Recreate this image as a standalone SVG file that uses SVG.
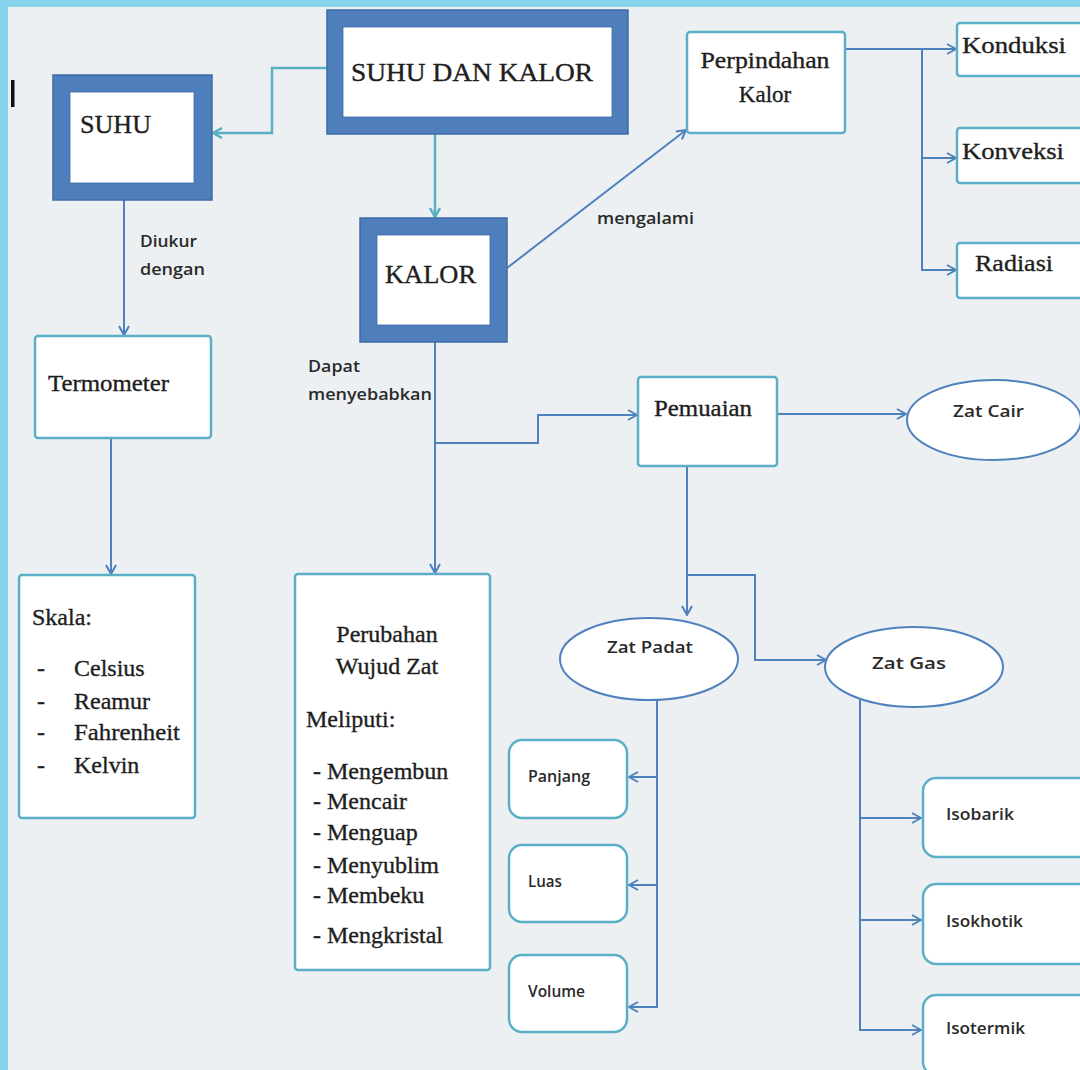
<svg xmlns="http://www.w3.org/2000/svg" width="1080" height="1070" viewBox="0 0 1080 1070">
<defs>
<style>
.bg{fill:#ECF0F3}
.thick{fill:#4F7EBD;stroke:#3F6BA6;stroke-width:1.5}
.inner{fill:#FFFFFF;stroke:#3F6BA6;stroke-width:0.8}
.box{fill:#FFFFFF;stroke:#5AAFC6;stroke-width:2.5}
.oval{fill:#FFFFFF;stroke:#4F81BD;stroke-width:2}
.t{font-family:"Liberation Serif","Times New Roman",serif;fill:#1E1E1E;stroke:#1E1E1E;stroke-width:0.35}
.s{font-family:"Open Sans","Liberation Sans",Arial,sans-serif;font-weight:600;fill:#2A2A2A;font-size:15.5px}
.c1{fill:none;stroke:#5AAFC4;stroke-width:2.5}
.c2{fill:none;stroke:#4F81BD;stroke-width:2}
</style>
<marker id="aT" viewBox="0 0 12 12" refX="11" refY="6" markerWidth="12" markerHeight="12" markerUnits="userSpaceOnUse" orient="auto">
<polyline points="2,1 11,6 2,11" fill="none" stroke="#5AAFC4" stroke-width="2.5"/>
</marker>
<marker id="aB" viewBox="0 0 12 12" refX="11" refY="6" markerWidth="12" markerHeight="12" markerUnits="userSpaceOnUse" orient="auto">
<polyline points="2,1 11,6 2,11" fill="none" stroke="#4F81BD" stroke-width="2"/>
</marker>
</defs>
<rect class="bg" x="0" y="0" width="1080" height="1070"/>
<rect x="0" y="0" width="1080" height="7" fill="#86D3EC"/>
<rect x="0" y="0" width="8" height="1070" fill="#86D3EC"/>
<rect x="11" y="80" width="3.5" height="27" fill="#111"/>

<g id="connectors">
<polyline class="c1" points="327,68 272,68 272,133 213,133" marker-end="url(#aT)"/>
<line class="c1" x1="435" y1="134" x2="435" y2="217" marker-end="url(#aT)"/>
<line class="c2" x1="507" y1="268" x2="686" y2="130" marker-end="url(#aB)"/>
<polyline class="c2" points="845,49 956,49" marker-end="url(#aB)"/>
<polyline class="c2" points="922,49 922,158 956,158" marker-end="url(#aB)"/>
<polyline class="c2" points="922,158 922,270 956,270" marker-end="url(#aB)"/>
<line class="c2" x1="124" y1="200" x2="124" y2="335" marker-end="url(#aB)"/>
<line class="c2" x1="111" y1="438" x2="111" y2="574" marker-end="url(#aB)"/>
<line class="c2" x1="435" y1="342" x2="435" y2="573" marker-end="url(#aB)"/>
<polyline class="c2" points="435,443 538,443 538,415 637,415" marker-end="url(#aB)"/>
<line class="c2" x1="777" y1="414" x2="906" y2="414" marker-end="url(#aB)"/>
<line class="c2" x1="687" y1="466" x2="687" y2="615" marker-end="url(#aB)"/>
<polyline class="c2" points="687,575 755,575 755,660 826,660" marker-end="url(#aB)"/>
<polyline class="c2" points="657,700 657,1007 629,1007" marker-end="url(#aB)"/>
<line class="c2" x1="657" y1="777" x2="629" y2="777" marker-end="url(#aB)"/>
<line class="c2" x1="657" y1="885" x2="629" y2="885" marker-end="url(#aB)"/>
<polyline class="c2" points="860,700 860,1030 921,1030" marker-end="url(#aB)"/>
<line class="c2" x1="860" y1="818" x2="921" y2="818" marker-end="url(#aB)"/>
<line class="c2" x1="860" y1="920" x2="921" y2="920" marker-end="url(#aB)"/>
<text class="s" x="597" y="224" textLength="97" lengthAdjust="spacingAndGlyphs">mengalami</text>
<text class="s" x="140" y="247" textLength="57" lengthAdjust="spacingAndGlyphs">Diukur</text>
<text class="s" x="140" y="275" textLength="65" lengthAdjust="spacingAndGlyphs">dengan</text>
<text class="s" x="308" y="372" textLength="52" lengthAdjust="spacingAndGlyphs">Dapat</text>
<text class="s" x="308" y="400" textLength="124" lengthAdjust="spacingAndGlyphs">menyebabkan</text>
</g>

<g id="suhu-dan-kalor">
<rect class="thick" x="327" y="10" width="301" height="124"/>
<rect class="inner" x="343" y="27" width="269" height="90"/>
<text class="t" x="472" y="81" font-size="25" text-anchor="middle" textLength="242" lengthAdjust="spacingAndGlyphs">SUHU DAN KALOR</text>
</g>
<g id="suhu">
<rect class="thick" x="53" y="75" width="159" height="125"/>
<rect class="inner" x="70" y="92" width="124" height="91"/>
<text class="t" x="80" y="133" font-size="25" textLength="71" lengthAdjust="spacingAndGlyphs">SUHU</text>
</g>
<g id="kalor">
<rect class="thick" x="360" y="218" width="147" height="124"/>
<rect class="inner" x="377" y="235" width="113" height="90"/>
<text class="t" x="385" y="283" font-size="25" textLength="91" lengthAdjust="spacingAndGlyphs">KALOR</text>
</g>
<g id="perpindahan-kalor">
<rect class="box" x="687" y="32" width="158" height="101" rx="3"/>
<text class="t" x="765" y="68" font-size="23" text-anchor="middle" textLength="129" lengthAdjust="spacingAndGlyphs">Perpindahan</text>
<text class="t" x="765" y="102" font-size="23" text-anchor="middle">Kalor</text>
</g>
<g id="konduksi">
<rect class="box" x="957" y="23" width="126" height="53" rx="3"/>
<text class="t" x="962" y="53" font-size="24" textLength="104" lengthAdjust="spacingAndGlyphs">Konduksi</text>
</g>
<g id="konveksi">
<rect class="box" x="957" y="128" width="126" height="55" rx="3"/>
<text class="t" x="962" y="159" font-size="24" textLength="102" lengthAdjust="spacingAndGlyphs">Konveksi</text>
</g>
<g id="radiasi">
<rect class="box" x="957" y="243" width="126" height="55" rx="3"/>
<text class="t" x="1014" y="271" font-size="24" text-anchor="middle" textLength="78" lengthAdjust="spacingAndGlyphs">Radiasi</text>
</g>
<g id="termometer">
<rect class="box" x="35" y="336" width="176" height="102" rx="3"/>
<text class="t" x="48" y="391" font-size="23" textLength="121" lengthAdjust="spacingAndGlyphs">Termometer</text>
</g>
<g id="skala">
<rect class="box" x="19" y="575" width="176" height="243" rx="3"/>
<text class="t" x="32" y="625" font-size="24">Skala:</text>
<text class="t" x="37" y="676" font-size="24">-</text>
<text class="t" x="74" y="676" font-size="24">Celsius</text>
<text class="t" x="37" y="709" font-size="24">-</text>
<text class="t" x="74" y="709" font-size="24">Reamur</text>
<text class="t" x="37" y="740" font-size="24">-</text>
<text class="t" x="74" y="740" font-size="24" textLength="106" lengthAdjust="spacingAndGlyphs">Fahrenheit</text>
<text class="t" x="37" y="773" font-size="24">-</text>
<text class="t" x="74" y="773" font-size="24">Kelvin</text>
</g>
<g id="pemuaian">
<rect class="box" x="638" y="377" width="139" height="89" rx="3"/>
<text class="t" x="703" y="416" font-size="23" text-anchor="middle" textLength="98" lengthAdjust="spacingAndGlyphs">Pemuaian</text>
</g>
<g id="zat-cair">
<ellipse class="oval" cx="994" cy="420" rx="87" ry="40"/>
<text class="s" x="953" y="417" textLength="71" lengthAdjust="spacingAndGlyphs">Zat Cair</text>
</g>
<g id="perubahan-wujud-zat">
<rect class="box" x="295" y="574" width="195" height="396" rx="3"/>
<text class="t" x="387" y="642" font-size="24" text-anchor="middle">Perubahan</text>
<text class="t" x="387" y="674" font-size="24" text-anchor="middle">Wujud Zat</text>
<text class="t" x="306" y="727" font-size="24">Meliputi:</text>
<text class="t" x="313" y="779" font-size="24">- Mengembun</text>
<text class="t" x="313" y="809" font-size="24">- Mencair</text>
<text class="t" x="313" y="840" font-size="24">- Menguap</text>
<text class="t" x="313" y="873" font-size="24">- Menyublim</text>
<text class="t" x="313" y="903" font-size="24">- Membeku</text>
<text class="t" x="313" y="943" font-size="24">- Mengkristal</text>
</g>
<g id="zat-padat">
<ellipse class="oval" cx="649" cy="659" rx="89" ry="41"/>
<text class="s" x="607" y="653" textLength="86" lengthAdjust="spacingAndGlyphs">Zat Padat</text>
</g>
<g id="zat-gas">
<ellipse class="oval" cx="914" cy="667" rx="89" ry="40"/>
<text class="s" x="872" y="669" textLength="74" lengthAdjust="spacingAndGlyphs">Zat Gas</text>
</g>
<g id="panjang">
<rect class="box" x="509" y="740" width="118" height="78" rx="13"/>
<text class="s" x="528" y="782" textLength="62" lengthAdjust="spacingAndGlyphs">Panjang</text>
</g>
<g id="luas">
<rect class="box" x="509" y="845" width="118" height="77" rx="13"/>
<text class="s" x="528" y="887" textLength="34" lengthAdjust="spacingAndGlyphs">Luas</text>
</g>
<g id="volume">
<rect class="box" x="509" y="955" width="118" height="77" rx="13"/>
<text class="s" x="528" y="997" textLength="57" lengthAdjust="spacingAndGlyphs">Volume</text>
</g>
<g id="isobarik">
<rect class="box" x="923" y="778" width="170" height="79" rx="13"/>
<text class="s" x="946" y="820" textLength="68" lengthAdjust="spacingAndGlyphs">Isobarik</text>
</g>
<g id="isokhotik">
<rect class="box" x="923" y="884" width="170" height="80" rx="13"/>
<text class="s" x="946" y="927" textLength="77" lengthAdjust="spacingAndGlyphs">Isokhotik</text>
</g>
<g id="isotermik">
<rect class="box" x="923" y="995" width="170" height="80" rx="13"/>
<text class="s" x="946" y="1034" textLength="79" lengthAdjust="spacingAndGlyphs">Isotermik</text>
</g>
</svg>
